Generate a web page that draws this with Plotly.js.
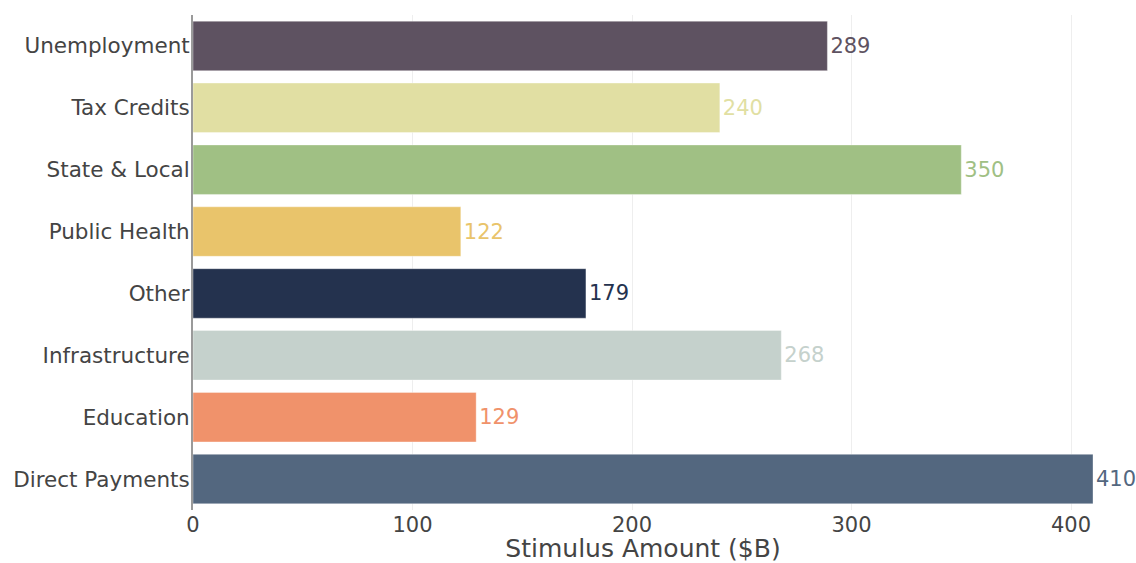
<!DOCTYPE html>
<html>
<head>
<meta charset="utf-8">
<script src="https://cdn.plot.ly/plotly-3.0.1.min.js"></script>
<style>
  html, body { margin: 0; padding: 0; background: #fff; }
  #chart { width: 1136px; height: 563px; }
</style>
</head>
<body>
<div id="chart"></div>
<script>
// Stimulus categories, listed bottom to top
const categories = [
  "Direct Payments", "Education", "Infrastructure", "Other",
  "Public Health", "State & Local", "Tax Credits", "Unemployment"
];
// Amount per category, in billions of dollars
const amounts = [410, 129, 268, 179, 122, 350, 240, 289];
// One colour per category
const barColors = [
  "#53677f", "#f0926b", "#c5d1cc", "#24324e",
  "#e9c46b", "#a0c084", "#e1dfa3", "#5e5261"
];
const xTickValues = [0, 100, 200, 300, 400];

const FONT = "Verdana, 'DejaVu Sans', sans-serif";

const trace = {
  type: "bar",
  orientation: "h",
  y: categories,
  x: amounts,
  marker: {
    color: barColors,
    line: { color: "rgba(255,255,255,0.35)", width: 1 }
  },
  text: amounts.map(String),
  textposition: "outside",
  textfont: { family: FONT, size: 21, color: barColors },
  cliponaxis: false,
  hoverinfo: "x+y"
};

const layout = {
  width: 1136,
  height: 563,
  margin: { l: 193, r: 43, t: 15, b: 53 },
  paper_bgcolor: "#ffffff",
  plot_bgcolor: "#ffffff",
  showlegend: false,
  bargap: 0.2,
  font: { family: FONT, size: 21, color: "#444" },
  xaxis: {
    range: [0, 410],
    tickvals: xTickValues,
    ticktext: xTickValues.map(String),
    showgrid: true,
    gridcolor: "#eeeeee",
    gridwidth: 1,
    zeroline: false,
    showline: false,
    ticks: "",
    ticklabelstandoff: 0,
    tickfont: { family: FONT, size: 21, color: "#444" },
    title: { text: "Stimulus Amount ($B)", font: { family: FONT, size: 25, color: "#444" } },
    automargin: false
  },
  yaxis: {
    showgrid: false,
    zeroline: false,
    showline: true,
    linecolor: "#9a9a9a",
    linewidth: 2,
    ticks: "",
    ticklabelstandoff: -3,
    tickfont: { family: FONT, size: 21.5, color: "#444" },
    automargin: false
  }
};

Plotly.newPlot("chart", [trace], layout, { displayModeBar: false, staticPlot: true });
</script>
</body>
</html>
